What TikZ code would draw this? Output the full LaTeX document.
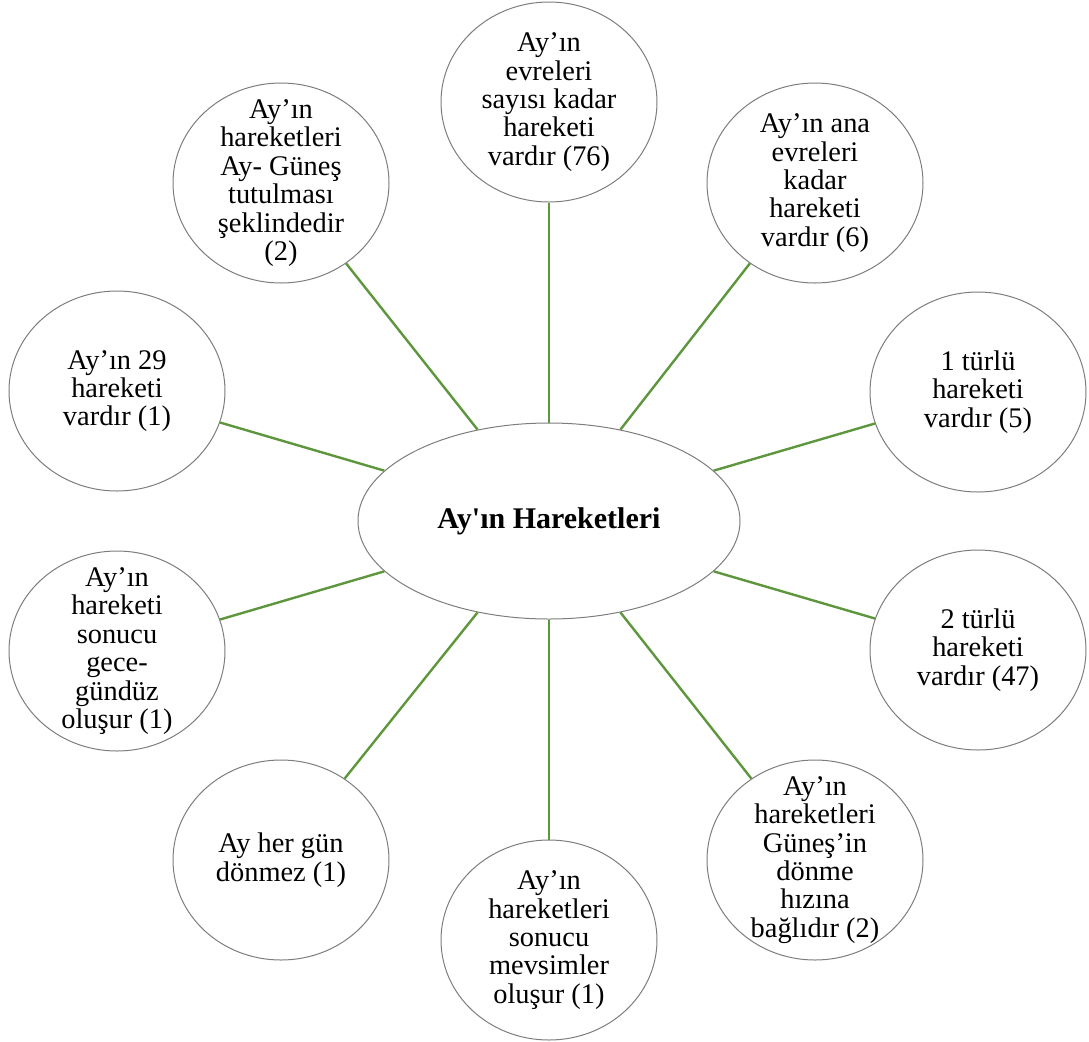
\documentclass[tikz,border=0pt]{standalone}
\usepackage{fontspec}
\setmainfont{Liberation Serif}
\usetikzlibrary{shapes.geometric}
\definecolor{linkgreen}{RGB}{94,150,62}
\definecolor{rimgray}{RGB}{125,125,125}

\begin{document}
\begin{tikzpicture}[x=0.5pt,y=-0.5pt,
  bub/.style={ellipse,draw=rimgray,line width=0.5pt,minimum width=108pt,minimum height=100pt,inner sep=0pt},
  txt/.style={align=center,inner sep=0pt,font=\fontsize{14.2}{14.2}\selectfont},
  link/.style={draw=linkgreen,line width=1.2pt}]
\useasboundingbox (0,0) rectangle (1089,1041);
% hub
\node[bub,minimum width=191pt,minimum height=98pt] (hub) at (549,521) {};
\node[txt,font=\fontsize{15}{15}\selectfont\bfseries] (hubt) at (hub) {Ay\textquotesingle ın Hareketleri};
% satellites
\node[bub] (t) at (549,102) {};
\node[txt] (tt) at (t) {Ay’ın\\evreleri\\sayısı kadar\\hareketi\\vardır (76)};
\node[bub] (tr) at (815,183) {};
\node[txt] (trt) at (tr) {Ay’ın ana\\evreleri\\kadar\\hareketi\\vardır (6)};
\node[bub] (ru) at (978,392) {};
\node[txt] (rut) at (ru) {1 türlü\\hareketi\\vardır (5)};
\node[bub] (rl) at (978,650) {};
\node[txt] (rlt) at (rl) {2 türlü\\hareketi\\vardır (47)};
\node[bub] (br) at (815,860) {};
\node[txt] (brt) at (br) {Ay’ın\\hareketleri\\Güneş’in\\dönme\\hızına\\bağlıdır (2)};
\node[bub] (b) at (549,940) {};
\node[txt] (bt) at (b) {Ay’ın\\hareketleri\\sonucu\\mevsimler\\oluşur (1)};
\node[bub] (bl) at (281,860) {};
\node[txt] (blt) at (bl) {Ay her gün\\dönmez (1)};
\node[bub] (ll) at (117,651) {};
\node[txt] (llt) at (ll) {Ay’ın\\hareketi\\sonucu\\gece-\\gündüz\\oluşur (1)};
\node[bub] (lu) at (117,391) {};
\node[txt] (lut) at (lu) {Ay’ın 29\\hareketi\\vardır (1)};
\node[bub] (tl) at (281,183) {};
\node[txt] (tlt) at (tl) {Ay’ın\\hareketleri\\Ay- Güneş\\tutulması\\şeklindedir\\(2)};
% spokes
\draw[link] (hub.90) -- (t.-90);
\draw[link] (hub.52) -- (tr.231);
\draw[link] (hub.17) -- (ru.197);
\draw[link] (hub.-17) -- (rl.163);
\draw[link] (hub.-52) -- (br.128);
\draw[link] (hub.-90) -- (b.90);
\draw[link] (hub.232) -- (bl.52);
\draw[link] (hub.197) -- (ll.17);
\draw[link] (hub.163) -- (lu.-17);
\draw[link] (hub.128) -- (tl.-51);
\end{tikzpicture}
\end{document}
